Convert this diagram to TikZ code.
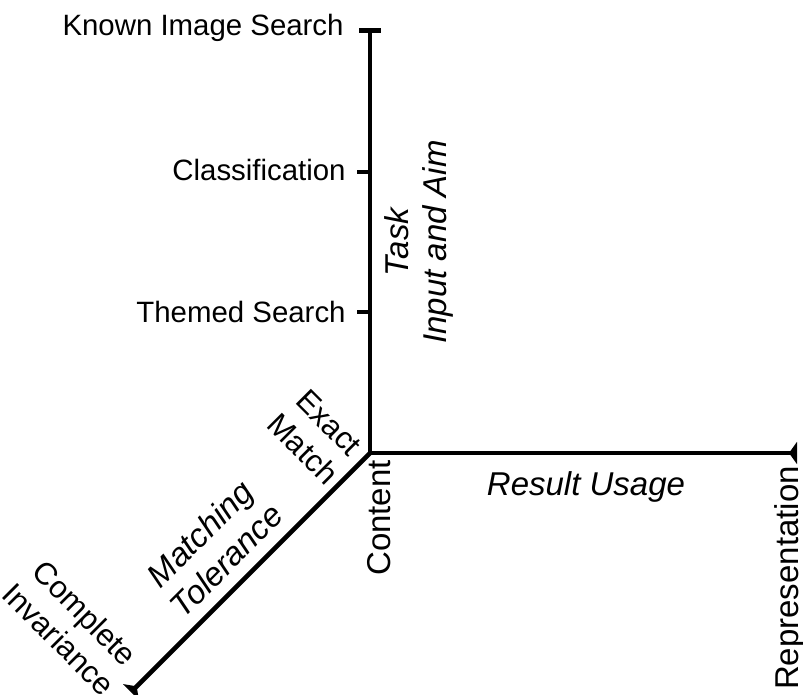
\documentclass[tikz,border=0pt]{standalone}
\usepackage{fontspec}
\setmainfont{Liberation Sans}
\usetikzlibrary{arrows.meta, positioning}

\begin{document}
\begin{tikzpicture}[x=0.5pt, y=-0.5pt,
  axis/.style={line width=2.3pt},
  ticklabel/.style={font=\fontsize{14.7}{17}\selectfont, anchor=east, inner sep=0pt},
  axislabel/.style={font=\fontsize{16.5}{19}\selectfont\itshape, align=center, inner sep=0pt},
  endlabel/.style={font=\fontsize{16.5}{19}\selectfont, align=center, inner sep=0pt},
  cornerlabel/.style={font=\fontsize{15.5}{18.5}\selectfont, align=center, inner sep=0pt}]
\useasboundingbox (0,0) rectangle (803,695);

% Origin and the ends of the three axes
\coordinate (O) at (370,453);
\coordinate (task) at (370,28);
\coordinate (usage) at (797,453);
\coordinate (tol) at (131,692);

% Task axis (vertical) with its levels
\draw[axis, -{Bar[width=11pt]}] (O) -- (task);
\coordinate (cls) at (370,172);
\coordinate (themed) at (370,312);
\draw[axis] (cls) -- ++(-13,0);
\draw[axis] (themed) -- ++(-13,0);

\node[ticklabel] (known) at (344,28) {Known Image Search};
\node[ticklabel] (clslabel) at (346,170) {Classification};
\node[ticklabel] (themedlabel) at (346,312) {Themed Search};
\node[axislabel, rotate=90] (tasklabel) at (419,242) {Task\\Input and Aim};

% Result usage axis (horizontal)
\draw[axis, -{Triangle[reversed, length=4pt, width=11pt]}] (O) -- (usage);
\node[axislabel] (usagelabel) at (586,487) {Result Usage};
\node[endlabel, rotate=90] (content) at (379,518) {Content};
\node[endlabel, rotate=90] (repr) at (790,578) {Representation};

% Matching tolerance axis (diagonal)
\draw[axis, -{Triangle[reversed, length=4pt, width=11pt]}] (O) -- (tol);
\node[cornerlabel, rotate=-45] (exact) at (316,436) {Exact\\Match};
\node[axislabel, rotate=45] (tollabel) at (213,547) {Matching\\Tolerance};
\node[cornerlabel, rotate=-45] (inv) at (72,626) {Complete\\Invariance};
\end{tikzpicture}
\end{document}
